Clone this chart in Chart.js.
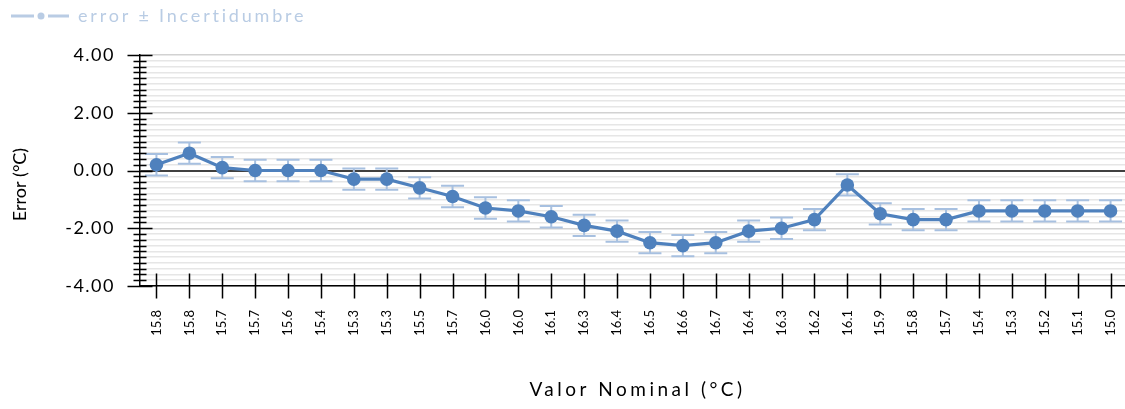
<!DOCTYPE html>
<html>
<head>
<meta charset="utf-8">
<script src="https://cdn.jsdelivr.net/npm/chart.js@4.4.1/dist/chart.umd.min.js"></script>
<style>
  html, body { margin: 0; padding: 0; background: #ffffff; }
  #wrap { width: 1125px; height: 409px; }
</style>
</head>
<body>
<div id="wrap"><canvas id="c" width="1125" height="409"></canvas></div>
<script>
// ---- data ----
const categories = ['15.8','15.8','15.7','15.7','15.6','15.4','15.3','15.3','15.5','15.7',
                    '16.0','16.0','16.1','16.3','16.4','16.5','16.6','16.7','16.4','16.3',
                    '16.2','16.1','15.9','15.8','15.7','15.4','15.3','15.2','15.1','15.0'];
const errors = [0.2, 0.6, 0.1, 0.0, 0.0, 0.0, -0.3, -0.3, -0.6, -0.9,
                -1.3, -1.4, -1.6, -1.9, -2.1, -2.5, -2.6, -2.5, -2.1, -2.0,
                -1.7, -0.5, -1.5, -1.7, -1.7, -1.4, -1.4, -1.4, -1.4, -1.4];
const uncertainty = [0.37, 0.37, 0.37, 0.37, 0.37, 0.37, 0.37, 0.37, 0.37, 0.37,
                     0.37, 0.37, 0.37, 0.37, 0.37, 0.37, 0.37, 0.37, 0.37, 0.37,
                     0.37, 0.37, 0.37, 0.37, 0.37, 0.37, 0.37, 0.37, 0.37, 0.37];
const yMajorValues = [-4, -2, 0, 2, 4];
const yTickLabels = ['-4.00', '-2.00', '0.00', '2.00', '4.00'];
const seriesLabel = 'error ± Incertidumbre';
const xTitle = 'Valor Nominal (°C)';
const yTitle = 'Error (°C)';

// ---- styles ----
const LINE_BLUE = '#4f81bd';
const ERR_BLUE = '#a7c0e0';
const LEGEND_COLOR = '#b9cce4';
const PLOT_RIGHT = 1127;

Chart.defaults.font.family = 'Lato, "Open Sans", sans-serif';
Chart.defaults.color = '#000000';

// legend icon: line with a dot
const icon = document.createElement('canvas');
icon.width = 62; icon.height = 10;
(function () {
  const g = icon.getContext('2d');
  g.strokeStyle = LEGEND_COLOR; g.lineWidth = 3;
  g.beginPath(); g.moveTo(4, 5); g.lineTo(27, 5); g.moveTo(41, 5); g.lineTo(62, 5); g.stroke();
  g.fillStyle = LEGEND_COLOR;
  g.beginPath(); g.arc(34, 5, 3.5, 0, Math.PI * 2); g.fill();
})();

function majorIndex(v) {
  const r = Math.round(v * 10);
  for (let i = 0; i < yMajorValues.length; i++) if (Math.round(yMajorValues[i] * 10) === r) return i;
  return -1;
}

const errorBars = {
  id: 'errorBars',
  beforeDatasetsDraw(chart) {
    const { ctx } = chart;
    const x = chart.scales.x, y = chart.scales.y;
    ctx.save();
    ctx.strokeStyle = ERR_BLUE;
    ctx.lineWidth = 2;
    errors.forEach((v, i) => {
      const px = x.getPixelForValue(i);
      const top = y.getPixelForValue(v + uncertainty[i]);
      const bot = y.getPixelForValue(v - uncertainty[i]);
      ctx.beginPath();
      ctx.moveTo(px, top); ctx.lineTo(px, bot);
      ctx.moveTo(px - 11.5, top); ctx.lineTo(px + 11.5, top);
      ctx.moveTo(px - 11.5, bot); ctx.lineTo(px + 11.5, bot);
      ctx.stroke();
    });
    ctx.restore();
  }
};

const crossTicks = {
  id: 'crossTicks',
  beforeDatasetsDraw(chart) {
    const { ctx, chartArea } = chart;
    const x = chart.scales.x, y = chart.scales.y;
    ctx.save();
    ctx.strokeStyle = '#000000';
    ctx.lineWidth = 1.5;
    ctx.beginPath();
    const ax = chartArea.left;
    y.ticks.forEach(t => {
      const py = Math.round(y.getPixelForValue(t.value)) + 0.5;
      const L = majorIndex(t.value) >= 0 ? 12.5 : 6.5;
      ctx.moveTo(ax - L, py); ctx.lineTo(ax + L, py);
    });
    const ay = chartArea.bottom;
    categories.forEach((c, i) => {
      const px = Math.round(x.getPixelForValue(i)) + 0.5;
      ctx.moveTo(px, ay - 12.5); ctx.lineTo(px, ay + 12.5);
    });
    ctx.stroke();
    ctx.restore();
  }
};

function spaced(obj, name, sp, dx, dy) {
  const orig = obj[name];
  obj[name] = function () {
    const ctx = this.ctx;
    const prev = ctx.letterSpacing;
    ctx.save();
    ctx.letterSpacing = sp;
    if (dx || dy) ctx.translate(dx || 0, dy || 0);
    try { return orig.apply(this, arguments); }
    finally { ctx.restore(); ctx.letterSpacing = prev; }
  };
}

const layoutTweaks = {
  id: 'layoutTweaks',
  afterInit(chart) {
    const lg = chart.legend;
    if (lg && !lg.$fitPatched) {
      const f = lg.fit;
      lg.fit = function () { f.apply(this, arguments); this.height = 55; };
      lg.$fitPatched = true;
      spaced(lg, 'draw', '2.8px');
    }
  },
  afterLayout(chart) {
    const ca = chart.chartArea;
    ca.right = PLOT_RIGHT;
    ca.width = ca.right - ca.left;
    const x = chart.scales.x;
    x.right = PLOT_RIGHT;
    x.width = x.right - x.left;
    x.configure();
  },
  beforeDraw(chart) {
    if (chart.$spacedPatched) return;
    spaced(chart.scales.y, 'drawLabels', '1.5px');
    spaced(chart.scales.y, 'drawTitle', '0px', 0, 14);
    spaced(chart.scales.x, 'drawTitle', '3.5px', 4, 0);
    spaced(chart.scales.x, 'drawLabels', '0px');
    chart.$spacedPatched = true;
  }
};

new Chart(document.getElementById('c'), {
  type: 'line',
  data: {
    labels: categories,
    datasets: [{
      label: seriesLabel,
      data: errors,
      borderColor: LINE_BLUE,
      backgroundColor: LINE_BLUE,
      borderWidth: 3.2,
      pointRadius: 6.8,
      pointHoverRadius: 6.8,
      pointBackgroundColor: LINE_BLUE,
      pointBorderColor: LINE_BLUE,
      pointBorderWidth: 0,
      tension: 0,
      fill: false,
      clip: false
    }]
  },
  options: {
    responsive: false,
    animation: false,
    events: [],
    layout: { padding: { left: 0, right: 0, top: 0, bottom: 0 } },
    plugins: {
      tooltip: { enabled: false },
      legend: {
        display: true,
        position: 'top',
        align: 'start',
        labels: {
          usePointStyle: true,
          pointStyleWidth: 62,
          padding: 7,
          color: LEGEND_COLOR,
          font: { size: 18 },
          generateLabels() {
            return [{
              text: seriesLabel,
              pointStyle: icon,
              fillStyle: LEGEND_COLOR,
              strokeStyle: LEGEND_COLOR,
              lineWidth: 0,
              fontColor: LEGEND_COLOR,
              hidden: false,
              datasetIndex: 0
            }];
          }
        }
      }
    },
    scales: {
      x: {
        type: 'category',
        offset: true,
        grid: { display: true, drawOnChartArea: false, drawTicks: false },
        border: { display: true, color: '#000000', width: 1.5 },
        ticks: {
          autoSkip: false,
          minRotation: 90,
          maxRotation: 90,
          padding: 24,
          color: '#000000',
          font: { size: 13 }
        },
        title: {
          display: true,
          text: xTitle,
          color: '#000000',
          font: { size: 19 },
          padding: { top: 0, bottom: 8 }
        },
        afterFit(s) { s.height = 123; s.paddingLeft = 0; s.paddingRight = 0; }
      },
      y: {
        min: -4,
        max: 4,
        grid: {
          drawTicks: false,
          color(c) {
            const r = Math.round(c.tick.value * 10);
            if (r === 0) return '#404040';
            if (majorIndex(c.tick.value) >= 0) return '#d2d2d2';
            return '#e6e6e6';
          },
          lineWidth(c) {
            const r = Math.round(c.tick.value * 10);
            if (r === 0) return 2;
            return 1.5;
          }
        },
        border: { display: true, color: '#000000', width: 1.5 },
        ticks: {
          stepSize: 0.2,
          autoSkip: false,
          maxTicksLimit: 100,
          padding: 25,
          color: '#000000',
          font: { size: 18 },
          callback(v) {
            const i = majorIndex(v);
            return i >= 0 ? yTickLabels[i] : '';
          }
        },
        title: {
          display: true,
          text: yTitle,
          color: '#000000',
          font: { size: 18 },
          padding: { top: 9, bottom: 0 }
        },
        afterFit(s) { s.width = 140; s.paddingTop = 0; s.paddingBottom = 0; }
      }
    }
  },
  plugins: [layoutTweaks, errorBars, crossTicks]
});
</script>
</body>
</html>
